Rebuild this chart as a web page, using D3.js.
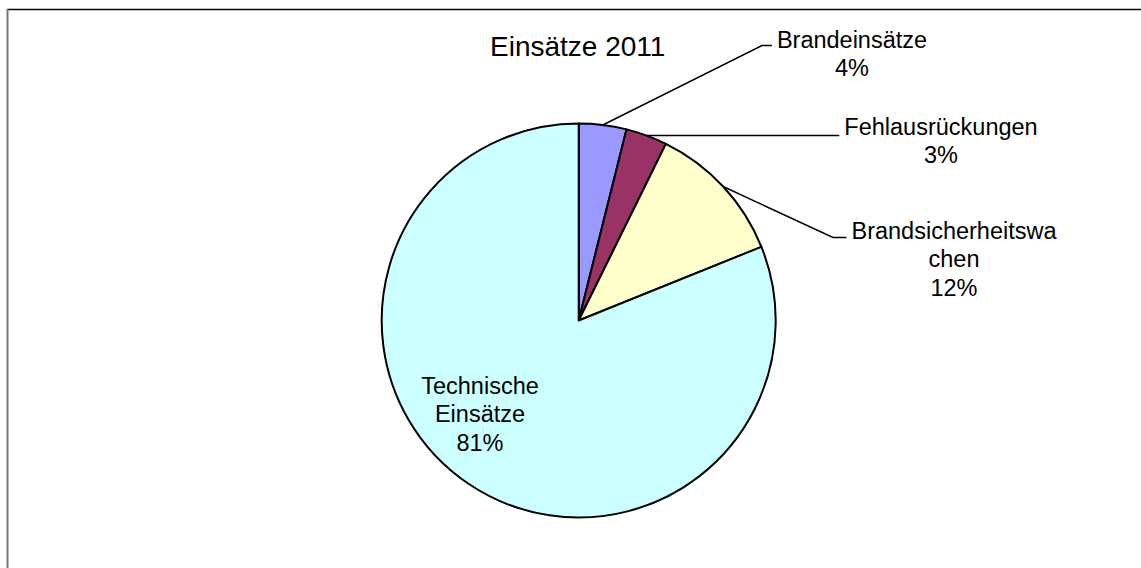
<!DOCTYPE html>
<html>
<head>
<meta charset="utf-8">
<script src="https://cdn.jsdelivr.net/npm/d3@7"></script>
<style>
    body { margin: 0; background: #fff; }
    svg { display: block; font-family: "Liberation Sans", Arial, sans-serif; }
</style>
</head>
<body>
<svg id="pie_chart"></svg>
<script>
// Einsätze 2011, shares (percent)
const categories = ["Brandeinsätze", "Fehlausrückungen", "Brandsicherheitswachen", "Technische Einsätze"]
const shares = [3.9, 3.4, 11.6, 81.1]
const labelLines = [["Brandeinsätze"], ["Fehlausrückungen"], ["Brandsicherheitswa", "chen"], ["Technische", "Einsätze"]]
const sliceColors = ["#9999ff", "#993366", "#ffffcc", "#ccffff"]

const drawPie = () => {
    const width = 1141
    const height = 568
    const cx = 578.7
    const cy = 320.5
    const radius = 197

    // label layout: block centre x, first baseline, optional leader elbow
    const labelLayout = [
        { cx: 852, y: 47.5, elbow: [762, 45.5] },
        { cx: 941, y: 135, elbow: null },
        { cx: 954, y: 239, elbow: [833, 237.5] },
        { cx: 480, y: 394, inside: true }
    ]
    const lineHeight = 28.4
    const pct = d3.format(".0%")
    const total = d3.sum(shares)

    const svg = d3.select('#pie_chart')
        .attr('width', width)
        .attr('height', height)

    // chart frame (top + left edge visible)
    svg.append('line')
        .attr('x1', 7).attr('x2', width).attr('y1', 9.5).attr('y2', 9.5)
        .attr('stroke', '#000').attr('stroke-width', 1.5)
    svg.append('line')
        .attr('x1', 7.5).attr('x2', 7.5).attr('y1', 9).attr('y2', height)
        .attr('stroke', '#777').attr('stroke-width', 2)

    svg.append('text')
        .attr('x', cx - 1)
        .attr('y', 56)
        .attr('text-anchor', 'middle')
        .attr('font-size', '28px')
        .attr('fill', '#000')
        .text('Einsätze 2011')

    const arcs = d3.pie().sort(null).value(d => d)(shares)
    const arc = d3.arc().innerRadius(0).outerRadius(radius)
    const edge = d3.arc().innerRadius(radius).outerRadius(radius)

    const g = svg.append('g').attr('transform', `translate(${cx},${cy})`)

    g.selectAll('path')
        .data(arcs)
        .join('path')
        .attr('d', arc)
        .attr('fill', (d, i) => sliceColors[i])
        .attr('stroke', '#000')
        .attr('stroke-width', 2)
        .attr('stroke-linejoin', 'round')

    const labels = svg.append('g')
        .attr('font-size', '23.5px')
        .attr('fill', '#000')
        .attr('text-anchor', 'middle')

    arcs.forEach((d, i) => {
        const lay = labelLayout[i]
        const lines = labelLines[i].concat([pct(d.value / total)])
        const t = labels.append('text')
        lines.forEach((ln, k) => {
            t.append('tspan')
                .attr('x', lay.cx)
                .attr('y', lay.y + k * lineHeight)
                .text(ln)
        })
        if (lay.inside) return

        // leader line from slice edge midpoint to the label
        const firstW = t.select('tspan').node().getComputedTextLength()
        const textLeft = lay.cx - firstW / 2
        const [ex, ey] = edge.centroid(d)
        const pts = [[cx + ex, cy + ey]]
        if (lay.elbow) pts.push(lay.elbow)
        const endY = lay.elbow ? lay.elbow[1] : cy + ey
        pts.push([textLeft - 5, endY])
        svg.append('path')
            .attr('d', d3.line()(pts))
            .attr('fill', 'none')
            .attr('stroke', '#000')
            .attr('stroke-width', 1.5)
    })
}

drawPie()
</script>
</body>
</html>
